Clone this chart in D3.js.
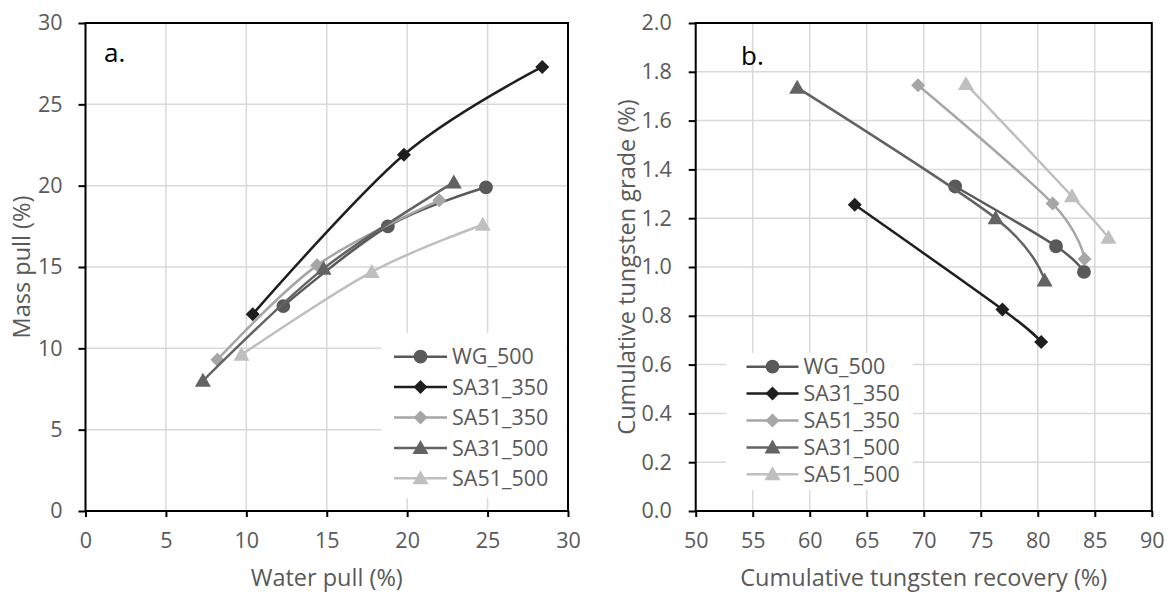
<!DOCTYPE html>
<html><head><meta charset="utf-8">
<script src="https://cdn.jsdelivr.net/npm/d3@7"></script>
<style>body{margin:0;background:#fff}svg{display:block}text{font-family:"Open Sans",sans-serif}</style>
</head><body><svg id="c" width="1173" height="597"></svg>
<script>
const seriesNames = ["WG_500","SA31_350","SA51_350","SA31_500","SA51_500"];
const seriesColors = ["#595959","#1f1f1f","#a6a6a6","#636363","#bfbfbf"];
const seriesMarkers = ["circle","diamond","diamond","triangle","triangle"];
// Chart a: water pull (x) vs mass pull (y)
const waterPull = [
  [12.3, 18.8, 24.9],
  [10.4, 19.8, 28.4],
  [8.2, 14.4, 22.0],
  [7.3, 14.8, 22.9],
  [9.7, 17.8, 24.7]
];
const massPull = [
  [12.6, 17.5, 19.9],
  [12.1, 21.9, 27.3],
  [9.3, 15.1, 19.1],
  [8.0, 14.9, 20.2],
  [9.6, 14.7, 17.6]
];
// Chart b: cumulative recovery (x) vs grade (y)
const recovery = [
  [72.75, 81.6, 84.05],
  [63.95, 76.9, 80.3],
  [69.5, 81.3, 84.1],
  [58.9, 76.3, 80.6],
  [73.7, 83.0, 86.2]
];
const grade = [
  [1.33, 1.085, 0.98],
  [1.255, 0.826, 0.693],
  [1.745, 1.26, 1.033],
  [1.735, 1.20, 0.945],
  [1.75, 1.29, 1.12]
];
const xTicksA = [0,5,10,15,20,25,30];
const yTicksA = [0,5,10,15,20,25,30];
const xTicksB = [50,55,60,65,70,75,80,85,90];
const yTicksB = [0,0.2,0.4,0.6,0.8,1.0,1.2,1.4,1.6,1.8,2.0];

const svg = d3.select("#c");
const tickFont = 21.5;
const titleFont = 23.5;
const textColor = "#595959";

function markerPath(type){
  if(type==="circle") return d3.symbol(d3.symbolCircle, 150)();
  if(type==="diamond") return "M0,-7L7,0L0,7L-7,0Z";
  return "M0,-8L8,6L-8,6Z";
}

function drawChart(cfg){
  const g = svg.append("g");
  const x = d3.scaleLinear().domain(cfg.xDomain).range([cfg.left, cfg.right]);
  const y = d3.scaleLinear().domain(cfg.yDomain).range([cfg.bottom, cfg.top]);
  g.append("g").selectAll("line").data(cfg.xTicks).join("line")
    .attr("x1",d=>x(d)).attr("x2",d=>x(d)).attr("y1",cfg.top).attr("y2",cfg.bottom)
    .attr("stroke","#d9d9d9").attr("stroke-width",1.5);
  g.append("g").selectAll("line").data(cfg.yTicks).join("line")
    .attr("y1",d=>y(d)).attr("y2",d=>y(d)).attr("x1",cfg.left).attr("x2",cfg.right)
    .attr("stroke","#d9d9d9").attr("stroke-width",1.5);
  const xa = g.append("g").attr("transform",`translate(0,${cfg.bottom})`)
    .call(d3.axisBottom(x).tickValues(cfg.xTicks).tickSize(6).tickPadding(16).tickFormat(cfg.xFmt));
  const ya = g.append("g").attr("transform",`translate(${cfg.left},0)`)
    .call(d3.axisLeft(y).tickValues(cfg.yTicks).tickSize(7).tickPadding(cfg.yPad).tickFormat(cfg.yFmt));
  [xa,ya].forEach(a=>{
    a.select(".domain").remove();
    a.selectAll(".tick line").attr("stroke","#000").attr("stroke-width",2);
    a.selectAll(".tick text").attr("fill",textColor).style("font-size",tickFont+"px").style("font-family","'Open Sans',sans-serif");
  });
  g.append("rect").attr("x",cfg.left).attr("y",cfg.top).attr("width",cfg.right-cfg.left).attr("height",cfg.bottom-cfg.top)
    .attr("fill","none").attr("stroke","#000").attr("stroke-width",2);
  const lg = cfg.legend;
  g.append("rect").attr("x",lg.bx).attr("y",lg.by).attr("width",lg.bw).attr("height",lg.bh).attr("fill","#fff");
  const line = d3.line().x(d=>x(d[0])).y(d=>y(d[1])).curve(d3.curveCardinal.tension(0));
  seriesNames.forEach((name,i)=>{
    const pts = cfg.xs[i].map((v,j)=>[v,cfg.ys[i][j]]);
    g.append("path").attr("d",line(pts)).attr("fill","none").attr("stroke",seriesColors[i]).attr("stroke-width",2.5);
    g.append("g").selectAll("path").data(pts).join("path")
      .attr("transform",d=>`translate(${x(d[0])},${y(d[1])})`)
      .attr("d",markerPath(seriesMarkers[i])).attr("fill",seriesColors[i]);
  });
  seriesNames.forEach((name,i)=>{
    const yy = lg.y0 + i*lg.dy;
    g.append("line").attr("x1",lg.x1).attr("x2",lg.x2).attr("y1",yy).attr("y2",yy)
      .attr("stroke",seriesColors[i]).attr("stroke-width",2.5);
    g.append("path").attr("transform",`translate(${(lg.x1+lg.x2)/2},${yy})`)
      .attr("d",markerPath(seriesMarkers[i])).attr("fill",seriesColors[i]);
    g.append("text").attr("x",lg.x2+5).attr("y",yy).attr("dy","0.36em")
      .attr("fill",textColor).style("font-size",lg.fs+"px").text(name);
  });
  g.append("text").attr("x",(cfg.left+cfg.right)/2).attr("y",cfg.xTitleY).attr("text-anchor","middle")
    .attr("fill",textColor).style("font-size",titleFont+"px").text(cfg.xTitle);
  g.append("text").attr("transform",`translate(${cfg.yTitleX},${(cfg.top+cfg.bottom)/2}) rotate(-90)`)
    .attr("text-anchor","middle").attr("dy","0.35em")
    .attr("fill",textColor).style("font-size",titleFont+"px").text(cfg.yTitle);
  g.append("text").attr("x",cfg.labelX).attr("y",cfg.labelY).attr("fill","#000")
    .style("font-size","26px").text(cfg.label);
}

drawChart({
  left:85.5, right:568, top:23, bottom:511,
  xDomain:[0,30], yDomain:[0,30], xTicks:xTicksA, yTicks:yTicksA,
  xFmt:d3.format("d"), yFmt:d3.format("d"), yPad:16,
  xs:waterPull, ys:massPull,
  xTitle:"Water pull (%)", yTitle:"Mass pull (%)", xTitleY:586, yTitleX:22,
  label:"a.", labelX:104, labelY:62,
  legend:{bx:381,by:333,bw:185,bh:165,x1:394,x2:447,y0:356.7,dy:30.4,fs:21.5}
});
drawChart({
  left:695.7, right:1151.8, top:23, bottom:511,
  xDomain:[50,90], yDomain:[0,2], xTicks:xTicksB, yTicks:yTicksB,
  xFmt:d3.format("d"), yFmt:d3.format(".1f"), yPad:17,
  xs:recovery, ys:grade,
  xTitle:"Cumulative tungsten recovery (%)", yTitle:"Cumulative tungsten grade (%)", xTitleY:586, yTitleX:627,
  label:"b.", labelX:741, labelY:65,
  legend:{bx:726,by:353,bw:187,bh:137,x1:746.5,x2:798.5,y0:366.7,dy:26.9,fs:21.5}
});
</script></body></html>
